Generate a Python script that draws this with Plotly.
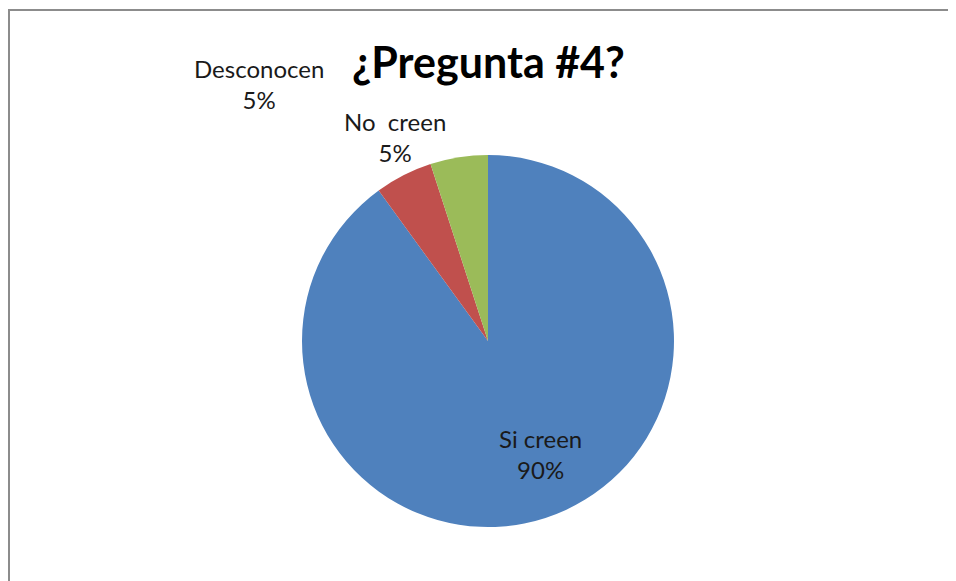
import plotly.graph_objects as go

# --- data ---
labels = ["Si creen", "No creen", "Desconocen"]
values = [90, 5, 5]
colors = ["#4F81BD", "#C0504D", "#9BBB59"]
title_text = "¿Pregunta #4?"

# label anchor points (figure px) for the data labels
label_pos = {
    "Si creen": (532, 446),
    "No creen": (387, 129),
    "Desconocen": (251, 76),
}

# page body has an 8px margin, so the figure is drawn 8px in
W, H = 948, 573
FONT = "Lato, 'Open Sans', sans-serif"


def px_x(x):
    return x / W


def px_y(y):
    return 1 - y / H


total = sum(values)

fig = go.Figure()
fig.add_trace(go.Pie(
    labels=labels,
    values=values,
    marker=dict(colors=colors, line=dict(width=0)),
    sort=False,
    direction="clockwise",
    rotation=0,
    textinfo="none",
    hoverinfo="label+percent",
    showlegend=False,
    domain=dict(x=[px_x(293), px_x(667)], y=[px_y(519), px_y(147)]),
))

annotations = []
for lab, val in zip(labels, values):
    x, y = label_pos[lab]
    pct = round(val / total * 100)
    txt = lab.replace(" ", "&nbsp;&nbsp;") if lab == "No creen" else lab
    annotations.append(dict(
        x=px_x(x), y=px_y(y), xref="paper", yref="paper",
        text=f"{txt}<br>{pct}%", showarrow=False,
        font=dict(family=FONT, size=24, color="#1a1a1a"),
        align="center", xanchor="center", yanchor="middle",
    ))

annotations.append(dict(
    x=px_x(480), y=px_y(54), xref="paper", yref="paper",
    text=f"<b>{title_text}</b>", showarrow=False,
    font=dict(family=FONT, size=43, color="#000000"),
    xanchor="center", yanchor="middle",
))

fig.update_layout(
    width=W, height=H,
    margin=dict(l=0, r=0, t=0, b=0),
    paper_bgcolor="white",
    plot_bgcolor="white",
    annotations=annotations,
    shapes=[dict(
        type="rect", xref="paper", yref="paper",
        x0=px_x(1), y0=-0.05, x1=1.05, y1=px_y(2),
        line=dict(color="#8c8c8c", width=2),
    )],
)

fig.write_html("out.html")
